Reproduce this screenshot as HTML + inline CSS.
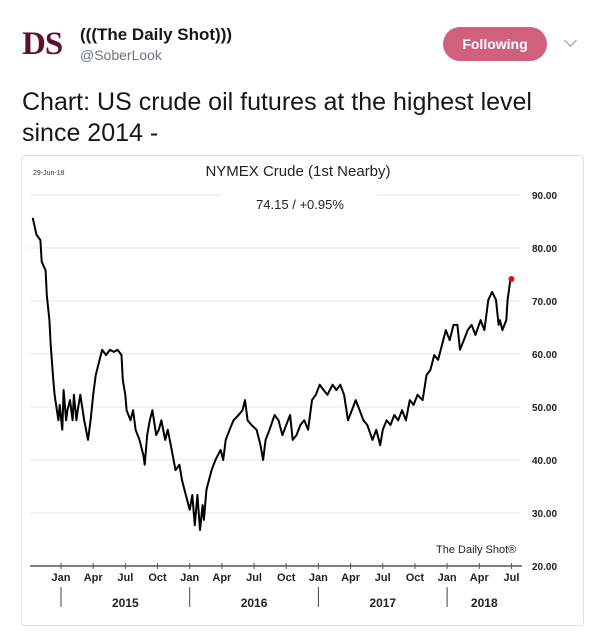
<!DOCTYPE html>
<html><head><meta charset="utf-8">
<style>
body{margin:0;width:609px;height:640px;background:#fff;font-family:"Liberation Sans",sans-serif;position:relative;overflow:hidden}
.abs{position:absolute}
</style></head><body>
<div class="abs" style="left:22px;top:26px;font-family:'Liberation Serif',serif;font-weight:bold;font-size:33px;color:#5a1230;letter-spacing:-1px">DS</div>
<div class="abs" style="left:80px;top:25px;font-weight:bold;font-size:17px;color:#14171a">(((The Daily Shot)))</div>
<div class="abs" style="left:80px;top:47px;font-size:14px;color:#657786">@SoberLook</div>
<div class="abs" style="left:443px;top:27px;width:104px;height:34px;border-radius:17px;background:#d1607f;color:#fff;font-weight:bold;font-size:14px;text-align:center;line-height:34px">Following</div>
<div class="abs" style="left:566px;top:36px;width:8px;height:8px;border-right:1.5px solid #8899a6;border-bottom:1.5px solid #8899a6;transform:rotate(45deg)"></div>
<div class="abs" style="left:22px;top:87px;font-size:25px;line-height:31px;color:#14171a;width:545px">Chart: US crude oil futures at the highest level since 2014 -</div>
<div class="abs" style="left:21px;top:155px;width:561px;height:469px;border:1px solid #dde;border-radius:4px"></div>
<svg class="abs" style="left:0;top:0" width="609" height="640">
<g id="grid"></g>
<rect x="222" y="188" width="155" height="14" fill="#fff"/>
<text x="33" y="175" font-size="7" fill="#333">29-Jun-18</text>
<text x="298" y="176" font-size="15" text-anchor="middle" fill="#222">NYMEX Crude (1st Nearby)</text>
<text x="300" y="209" font-size="13" text-anchor="middle" fill="#222">74.15  /  +0.95%</text>
<text x="436" y="553" font-size="11" fill="#222">The Daily Shot®</text>
<g id="axis"></g>
<path id="line" fill="none" stroke="#000" stroke-width="2" stroke-linejoin="round"/>
<circle id="dot" r="3" fill="#e01010"/>
</svg>
<script>
const dates=[2014.78,2014.81,2014.84,2014.85,2014.88,2014.89,2014.91,2014.92,2014.94,2014.95,2014.98,2014.99,2015.01,2015.02,2015.04,2015.05,2015.07,2015.09,2015.10,2015.12,2015.13,2015.15,2015.18,2015.21,2015.23,2015.25,2015.27,2015.30,2015.32,2015.35,2015.38,2015.41,2015.44,2015.47,2015.48,2015.50,2015.51,2015.54,2015.56,2015.58,2015.61,2015.64,2015.65,2015.67,2015.69,2015.71,2015.74,2015.76,2015.78,2015.81,2015.83,2015.86,2015.89,2015.92,2015.94,2015.96,2015.98,2016.00,2016.02,2016.04,2016.06,2016.08,2016.10,2016.11,2016.13,2016.14,2016.17,2016.20,2016.24,2016.26,2016.28,2016.31,2016.34,2016.38,2016.41,2016.43,2016.45,2016.48,2016.52,2016.55,2016.57,2016.59,2016.62,2016.66,2016.69,2016.72,2016.75,2016.78,2016.80,2016.83,2016.86,2016.89,2016.92,2016.95,2016.98,2017.01,2017.04,2017.07,2017.11,2017.14,2017.17,2017.20,2017.23,2017.26,2017.29,2017.32,2017.35,2017.38,2017.42,2017.45,2017.48,2017.50,2017.53,2017.56,2017.59,2017.62,2017.65,2017.68,2017.71,2017.74,2017.77,2017.81,2017.84,2017.87,2017.90,2017.93,2017.96,2017.99,2018.02,2018.05,2018.08,2018.10,2018.13,2018.16,2018.19,2018.22,2018.26,2018.29,2018.32,2018.35,2018.38,2018.40,2018.41,2018.43,2018.46,2018.47,2018.49,2018.50];
const prices=[85.7,82.5,81.5,77.4,75.8,71.1,66.4,61.7,55.1,52.3,47.5,50.4,45.7,53.2,47.5,49.4,51.3,47.5,52.3,47.5,49.4,52.3,47.5,43.8,47.5,52.3,56.0,58.9,60.8,59.8,60.8,60.4,60.8,59.8,55.1,52.3,49.4,47.5,49.4,45.7,43.8,40.9,39.1,44.7,47.5,49.4,44.7,45.7,47.5,43.8,45.7,41.9,38.1,39.1,36.2,34.3,32.5,30.6,33.4,27.7,33.4,26.8,31.5,28.7,34.3,35.3,38.1,40.0,41.9,40.0,43.8,45.7,47.5,48.5,49.4,51.3,47.5,46.6,45.7,42.8,40.0,43.8,45.7,48.5,47.5,44.7,46.6,48.5,43.8,44.7,46.6,47.5,45.7,51.3,52.3,54.2,53.2,52.3,54.2,53.2,54.2,52.3,47.5,49.4,51.3,49.4,47.5,46.6,43.8,45.7,42.8,45.7,47.5,46.6,48.5,47.5,49.4,47.5,51.3,50.4,52.3,51.3,56.0,57.0,59.8,58.9,61.7,64.5,62.6,65.5,65.5,60.8,62.6,64.5,65.5,63.6,66.4,64.5,70.2,71.7,70.2,65.5,66.4,64.5,66.4,70.2,73.8,74.15];
const yTicks=[20,30,40,50,60,70,80,90];
const monthLabels=["Jan","Apr","Jul","Oct"];
const years=[2015,2016,2017,2018];
const X=t=>61+(t-2015)*128.7;
const Y=v=>566-(v-20)*5.3;
const NS="http://www.w3.org/2000/svg";
function mk(tag,attrs,parent,txt){const e=document.createElementNS(NS,tag);for(const k in attrs)e.setAttribute(k,attrs[k]);if(txt!==undefined)e.textContent=txt;parent.appendChild(e);return e;}
const grid=document.getElementById('grid'),axis=document.getElementById('axis');
yTicks.forEach(v=>{
  if(v>20){const l=mk('line',{x1:30,x2:520,y1:Y(v),y2:Y(v),stroke:'#e4e4e4','stroke-width':1},grid);
  
  }
  const t=mk('text',{x:532,y:Y(v)+4,'font-size':10,'font-weight':'bold',fill:'#222'},axis,v.toFixed(2));
  
  
});
const ax=mk('line',{x1:30,x2:522,y1:566,y2:566,stroke:'#555','stroke-width':1.5},axis);


for(let i=0;i<15;i++){
  const t=2015+i*0.25;const x=X(t);
  mk('line',{x1:x,x2:x,y1:563,y2:569,stroke:'#555'},axis);
  const lb=mk('text',{x:x,y:581,'font-size':11,'font-weight':'bold','text-anchor':'middle',fill:'#222'},axis,monthLabels[i%4]);
  
  
}
years.forEach(yr=>{
  const x=X(yr);
  mk('line',{x1:x,x2:x,y1:587,y2:607,stroke:'#444'},axis);
  const end=Math.min(X(yr+1),X(2018.5)+10);
  const lb=mk('text',{x:(x+end)/2,y:607,'font-size':12,'font-weight':'bold','text-anchor':'middle',fill:'#222'},axis,String(yr));
  
  
});
const line=document.getElementById('line');
line.setAttribute('d',dates.map((d,i)=>(i?'L':'M')+X(d).toFixed(1)+' '+Y(prices[i]).toFixed(1)).join(''));


const dot=document.getElementById('dot');
dot.setAttribute('cx',X(dates[dates.length-1]));
dot.setAttribute('cy',Y(prices[prices.length-1]));


</script>
</body></html>
